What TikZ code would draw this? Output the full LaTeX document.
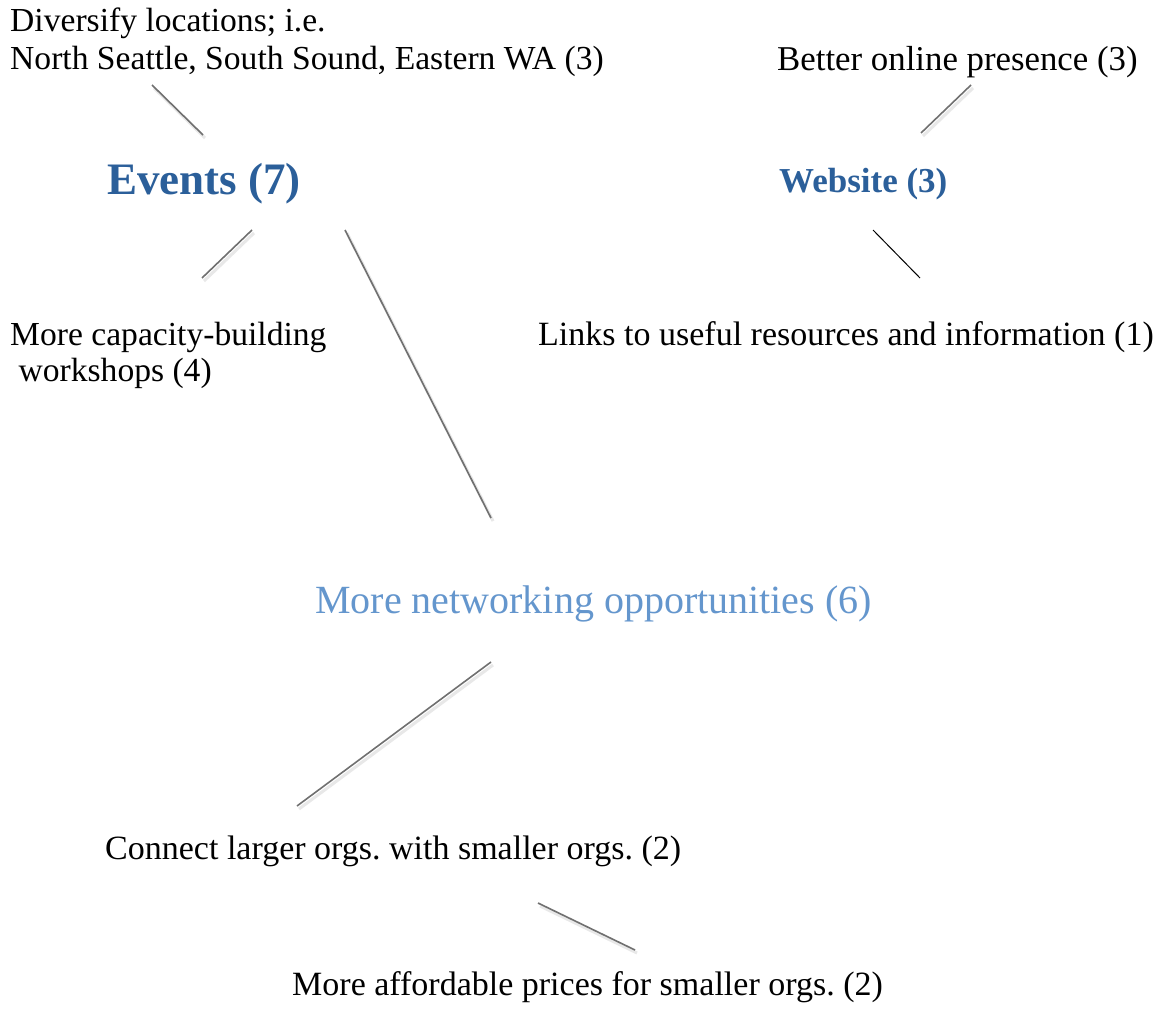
\documentclass[tikz,border=0pt]{standalone}
\usepackage{fontspec}
\setmainfont{Liberation Serif}
\frenchspacing
\definecolor{hdblue}{HTML}{2B5F9A}
\definecolor{lightblue}{HTML}{6496CD}
\definecolor{linegray}{HTML}{707070}
\tikzset{
  lbl/.style={anchor=base west, inner sep=0pt, font=\fontsize{33.6}{40}\selectfont},
  hdr/.style={anchor=base west, inner sep=0pt, font=\bfseries\fontsize{45}{52}\selectfont, text=hdblue},
  conn/.style={draw=linegray, line width=1.6pt},
  shade/.style={draw=black!9, line width=3pt},
}
\begin{document}
\begin{tikzpicture}[x=1pt,y=-1pt]
\useasboundingbox[fill=white] (0,0) rectangle (1161,1027);
% labels
\node[lbl] (div1) at (10,32) {Diversify locations; i.e.};
\node[lbl] (div2) at (10,70) {North Seattle, South Sound, Eastern WA (3)};
\node[lbl, font=\fontsize{34.8}{40}\selectfont] (online) at (777,71) {Better online presence (3)};
\node[hdr] (events) at (107,194) {Events (7)};
\node[hdr, font=\bfseries\fontsize{35}{40}\selectfont] (website) at (779,193) {Website (3)};
\node[lbl] (cap1) at (10,345) {More capacity-building};
\node[lbl] (cap2) at (10,381) {\ workshops (4)};
\node[lbl, font=\fontsize{34}{40}\selectfont] (links) at (538,345) {Links to useful resources and information (1)};
\node[lbl, font=\fontsize{40}{46}\selectfont, text=lightblue] (netw) at (315,613) {More networking opportunities (6)};
\node[lbl, font=\fontsize{34}{40}\selectfont] (connect) at (105,859) {Connect larger orgs. with smaller orgs. (2)};
\node[lbl, font=\fontsize{34}{40}\selectfont] (afford) at (292,995) {More affordable prices for smaller orgs. (2)};
% connector end points
\coordinate (a1) at (152,85);  \coordinate (a2) at (203,135);
\coordinate (b1) at (252,230); \coordinate (b2) at (202,278);
\coordinate (c1) at (345,230); \coordinate (c2) at (491,518);
\coordinate (d1) at (971,85);  \coordinate (d2) at (921,133);
\coordinate (e1) at (873,230); \coordinate (e2) at (920,278);
\coordinate (f1) at (491,662); \coordinate (f2) at (297,806);
\coordinate (g1) at (538,903); \coordinate (g2) at (635,950);
% soft shadows
\foreach \p/\q in {a1/a2,b1/b2,c1/c2,d1/d2,f1/f2,g1/g2}
  \draw[shade] ([shift={(2,3)}]\p) -- ([shift={(2,3)}]\q);
% connectors
\draw[conn] (a1) -- (a2);
\draw[conn] (b1) -- (b2);
\draw[conn] (c1) -- (c2);
\draw[conn] (d1) -- (d2);
\draw[draw=black, line width=1pt] (e1) -- (e2);
\draw[conn] (f1) -- (f2);
\draw[conn] (g1) -- (g2);
\end{tikzpicture}
\end{document}
